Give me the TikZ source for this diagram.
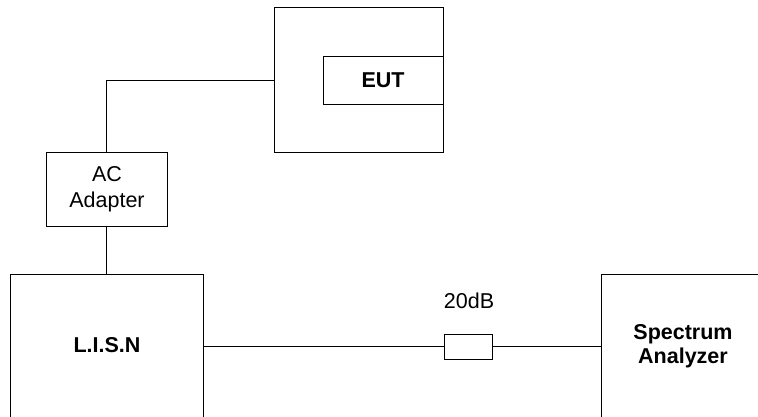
\documentclass[tikz,border=0pt]{standalone}
\usepackage{fontspec}
\setmainfont{Liberation Sans}
\begin{document}
\begin{tikzpicture}[x=1pt,y=-1pt,
  box/.style={draw, line width=1pt, inner sep=0pt, outer sep=0pt, anchor=north west},
  wire/.style={line width=1.8pt},
  lbl/.style={font=\fontsize{21.5}{25.5}\selectfont, align=center, inner sep=0pt},
  blbl/.style={font=\fontsize{21.5}{24.5}\selectfont\bfseries, align=center, inner sep=0pt}]
\useasboundingbox (0,0) rectangle (758,417);
\clip (0,0) rectangle (758,417);
\node[box, minimum width=169pt, minimum height=145pt] (eutouter) at (274,8) {};
\node[box, minimum width=120pt, minimum height=48pt] (eut) at (323,57) {};
\node[blbl] (eutt) at (383,80) {EUT};
\node[box, minimum width=121pt, minimum height=73pt] (ac) at (46,153) {};
\node[lbl] (act) at (107,189) {AC\\Adapter};
\node[box, minimum width=193pt, minimum height=200pt] (lisn) at (10,274) {};
\node[blbl] (lisnt) at (107,345) {L.I.S.N};
\node[box, minimum width=48pt, minimum height=25pt] (att) at (444,334) {};
\node[lbl] (attt) at (469,301) {20dB};
\node[box, minimum width=200pt, minimum height=200pt] (sa) at (601,274) {};
\node[blbl] (sat) at (683,346) {Spectrum\\Analyzer};
\draw[wire] (eutouter.west) -| (ac.north);
\draw[wire] (ac.south) -- (lisn.north);
\draw[wire] (att.west -| lisn.east) -- (att.west);
\draw[wire] (att.east) -- (att.east -| sa.west);
\end{tikzpicture}
\end{document}
